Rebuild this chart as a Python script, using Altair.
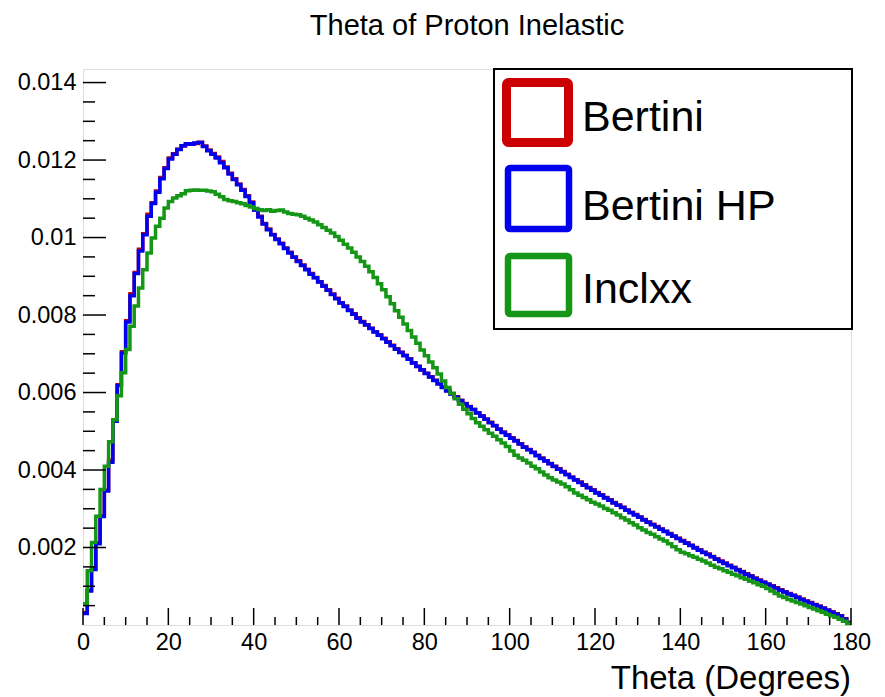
import altair as alt
import pandas as pd

# ---- data (bin contents in units of 1e-5, 1-degree bins from 0 to 180) ----
bertini = [
    32, 90, 145, 212, 282, 348, 425, 530, 620, 705,
    785, 855, 910, 970, 1010, 1060, 1090, 1120, 1155, 1180,
    1205, 1216, 1228, 1236, 1241, 1242, 1243, 1246, 1236, 1226,
    1217, 1208, 1196, 1182, 1166, 1152, 1138, 1124, 1108, 1092,
    1072, 1055, 1036, 1022, 1008, 996, 985, 973, 962, 950,
    940, 929, 918, 907, 897, 886, 876, 865, 854, 843,
    832, 823, 813, 803, 793, 783, 775, 766, 757, 749,
    740, 731, 722, 713, 704, 696, 687, 677, 668, 659,
    650, 641, 632, 623, 614, 605, 597, 589, 580, 572,
    564, 556, 548, 540, 531, 523, 515, 506, 498, 491,
    483, 476, 468, 460, 453, 446, 438, 431, 424, 417,
    410, 403, 396, 389, 382, 375, 369, 362, 355, 349,
    342, 336, 329, 323, 316, 310, 304, 297, 291, 285,
    279, 272, 266, 260, 254, 248, 242, 236, 230, 224,
    218, 212, 206, 200, 194, 188, 183, 177, 171, 165,
    160, 154, 149, 143, 138, 132, 127, 121, 116, 111,
    106, 101, 96, 91, 86, 81, 77, 72, 67, 62,
    58, 53, 49, 44, 39, 34, 29, 24, 16, 7,
]
bertini_hp = [
    30, 88, 143, 210, 280, 346, 420, 526, 618, 702,
    782, 850, 907, 965, 1007, 1055, 1088, 1117, 1152, 1178,
    1203, 1215, 1227, 1237, 1242, 1241, 1244, 1245, 1235, 1224,
    1215, 1205, 1193, 1180, 1164, 1150, 1136, 1122, 1106, 1090,
    1071, 1053, 1035, 1020, 1007, 995, 984, 972, 960, 949,
    938, 928, 917, 905, 896, 885, 874, 864, 853, 842,
    831, 822, 812, 802, 792, 782, 774, 765, 756, 748,
    739, 730, 721, 712, 703, 695, 686, 676, 667, 658,
    649, 640, 631, 622, 613, 604, 596, 588, 579, 571,
    563, 556, 547, 539, 531, 522, 514, 505, 497, 490,
    482, 475, 467, 459, 452, 445, 437, 430, 423, 416,
    409, 402, 395, 388, 381, 374, 368, 361, 354, 348,
    341, 335, 328, 322, 315, 309, 303, 296, 290, 284,
    278, 271, 265, 259, 253, 247, 241, 235, 229, 223,
    217, 211, 205, 199, 193, 187, 182, 176, 170, 164,
    159, 153, 148, 142, 137, 131, 126, 120, 115, 110,
    105, 100, 95, 90, 85, 80, 76, 71, 66, 61,
    57, 52, 48, 43, 38, 33, 28, 23, 15, 6,
]
inclxx = [
    55, 140, 213, 281, 350, 410, 473, 530, 592, 651,
    711, 771, 823, 870, 917, 960, 999, 1029, 1050, 1076,
    1093, 1102, 1108, 1113, 1121, 1122, 1123, 1122, 1122, 1120,
    1118, 1112, 1105, 1098, 1095, 1093, 1090, 1087, 1083, 1079,
    1075, 1072, 1070, 1072, 1068, 1070, 1071, 1066, 1062, 1060,
    1059, 1055, 1050, 1045, 1040, 1033, 1026, 1019, 1012, 1003,
    993, 983, 973, 962, 950, 938, 926, 912, 897, 881,
    865, 847, 829, 811, 794, 777, 760, 743, 727, 710,
    695, 679, 664, 648, 630, 613, 598, 584, 570, 557,
    545, 533, 522, 513, 504, 495, 487, 478, 470, 461,
    449, 438, 431, 425, 418, 410, 403, 395, 387, 380,
    374, 369, 364, 357, 349, 341, 335, 329, 323, 317,
    312, 307, 301, 296, 290, 284, 277, 271, 264, 258,
    251, 245, 239, 234, 228, 222, 217, 210, 202, 194,
    188, 184, 179, 175, 170, 165, 160, 154, 149, 145,
    140, 136, 131, 127, 122, 118, 113, 109, 104, 100,
    94, 88, 81, 75, 71, 66, 62, 58, 54, 50,
    45, 41, 37, 33, 28, 24, 20, 15, 10, 4,
]
series_names = ["Bertini", "Bertini HP", "Inclxx"]
series_colors = ["#cc0000", "#0000ee", "#169616"]

x_major = [0, 20, 40, 60, 80, 100, 120, 140, 160, 180]
x_minor = [5, 10, 15, 25, 30, 35, 45, 50, 55, 65, 70, 75, 85, 90, 95,
           105, 110, 115, 125, 130, 135, 145, 150, 155, 165, 170, 175]
y_major = [0.002, 0.004, 0.006, 0.008, 0.01, 0.012, 0.014]
y_minor = [0.0005, 0.001, 0.0015, 0.0025, 0.003, 0.0035, 0.0045, 0.005,
           0.0055, 0.0065, 0.007, 0.0075, 0.0085, 0.009, 0.0095, 0.0105,
           0.011, 0.0115, 0.0125, 0.013, 0.0135]

title_text = "Theta of Proton Inelastic"
x_title_text = "Theta (Degrees)"

FONT = "Liberation Sans"
W, H = 768, 556

xs = alt.Scale(domain=[0, 180], nice=False, zero=False)
ys = alt.Scale(domain=[0, 0.01435], nice=False, zero=False)

x_axis = alt.Axis(values=x_major, format="d", ticks=False, domain=False,
                  grid=False, labelFontSize=23.5, labelFont=FONT, labelColor="black",
                  labelPadding=5, title=None, labelFlush=False, labelOverlap=False)
y_axis = alt.Axis(values=y_major, format="~g", ticks=False, domain=False,
                  grid=False, labelFontSize=23.5, labelFont=FONT, labelColor="black",
                  labelPadding=7, title=None, labelFlush=False, labelOverlap=False)

XENC = dict(scale=xs, axis=x_axis)
YENC = dict(scale=ys, axis=y_axis)


def hist_layer(vals, color):
    edges = list(range(len(vals) + 1))
    ys_vals = [v * 1e-5 for v in vals] + [vals[-1] * 1e-5]
    df = pd.DataFrame({"theta": edges, "v": ys_vals})
    return alt.Chart(df).mark_line(
        interpolate="step-after", color=color, strokeWidth=3.5
    ).encode(
        x=alt.X("theta:Q", **XENC),
        y=alt.Y("v:Q", **YENC),
    )


one = pd.DataFrame({"a": [0]})

layers = []
# curves first so their axes define the shared axes
layers.append(hist_layer(bertini, series_colors[0]))
layers.append(hist_layer(bertini_hp, series_colors[1]))
layers.append(hist_layer(inclxx, series_colors[2]))

# tick marks (drawn inward, ROOT style)
layers.append(alt.Chart(pd.DataFrame({"v": y_major})).mark_rule(color="black", strokeWidth=1.5).encode(
    y=alt.Y("v:Q", **YENC), x=alt.value(0), x2=alt.value(23)))
layers.append(alt.Chart(pd.DataFrame({"v": y_minor})).mark_rule(color="black", strokeWidth=1.5).encode(
    y=alt.Y("v:Q", **YENC), x=alt.value(0), x2=alt.value(12)))
layers.append(alt.Chart(pd.DataFrame({"theta": x_major})).mark_rule(color="black", strokeWidth=1.5).encode(
    x=alt.X("theta:Q", **XENC), y=alt.value(H), y2=alt.value(H - 17)))
layers.append(alt.Chart(pd.DataFrame({"theta": x_minor})).mark_rule(color="black", strokeWidth=1.5).encode(
    x=alt.X("theta:Q", **XENC), y=alt.value(H), y2=alt.value(H - 8)))

# legend box
layers.append(alt.Chart(one).mark_rect(fill="white", stroke="black", strokeWidth=2).encode(
    x=alt.value(411), x2=alt.value(769), y=alt.value(0), y2=alt.value(260)))
legend_boxes = [(423.5, 485.5, 13.5, 73.5, 9), (425, 486, 99, 160, 6.5), (425, 486, 187, 245, 6.5)]
legend_baselines = [62, 151, 234]
for i, name in enumerate(series_names):
    x1, x2, y1, y2, sw = legend_boxes[i]
    layers.append(alt.Chart(one).mark_rect(
        fill="white", stroke=series_colors[i], strokeWidth=sw, cornerRadius=2, strokeJoin="round"
    ).encode(x=alt.value(x1), x2=alt.value(x2), y=alt.value(y1), y2=alt.value(y2)))
    layers.append(alt.Chart(one).mark_text(
        text=name, font=FONT, fontSize=43, align="left", baseline="alphabetic", color="black"
    ).encode(x=alt.value(499), y=alt.value(legend_baselines[i])))

# titles
layers.append(alt.Chart(one).mark_text(
    text=title_text, font=FONT, fontSize=29, align="center", baseline="alphabetic", color="black"
).encode(x=alt.value(W / 2), y=alt.value(-34)))
layers.append(alt.Chart(one).mark_text(
    text=x_title_text, font=FONT, fontSize=33, align="right", baseline="alphabetic", color="black"
).encode(x=alt.value(W), y=alt.value(H + 64)))

chart = alt.layer(*layers).properties(
    width=W, height=H,
    padding={"left": 75, "top": 61, "right": 22, "bottom": 72},
    autosize=alt.AutoSizeParams(type="none"),
).configure_view(stroke="#444444", strokeWidth=2).configure(background="white")

chart.save("out.html", embed_options={"renderer": "svg", "actions": False})
